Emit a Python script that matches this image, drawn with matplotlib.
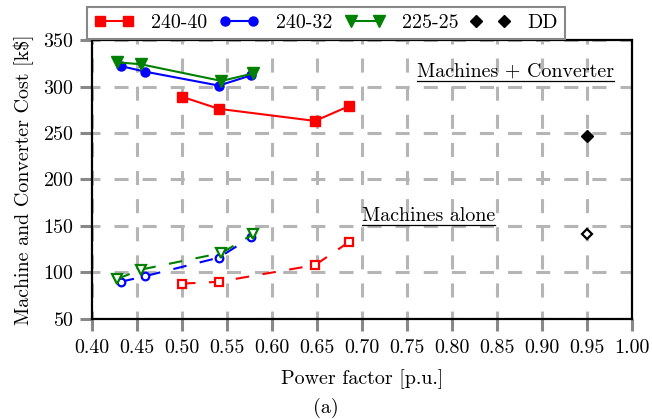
import numpy as np
import matplotlib
matplotlib.use("Agg")
import matplotlib.pyplot as plt
from matplotlib.lines import Line2D

plt.rcParams['font.family'] = 'serif'
plt.rcParams['font.serif'] = ['cmr10']
plt.rcParams['mathtext.fontset'] = 'cm'
plt.rcParams['axes.formatter.use_mathtext'] = True
FS = 14.4

# power factor [p.u.] per design
pf_240_40 = [0.50, 0.541, 0.648, 0.686]
pf_240_32 = [0.432, 0.459, 0.541, 0.577]
pf_225_25 = [0.428, 0.454, 0.544, 0.579]
pf_dd = [0.95]

# machines + converter cost [k$]
total_240_40 = [289, 276, 263, 279]
total_240_32 = [322, 316, 301, 312]
total_225_25 = [326, 324, 306, 314]
total_dd = [247]

# machines alone cost [k$]
mach_240_40 = [88, 90, 108, 133]
mach_240_32 = [90, 96, 116, 138]
mach_225_25 = [93, 103, 121, 141]
mach_dd = [141]

labels = ['240-40', '240-32', '225-25', 'DD']
colors = ['red', 'blue', 'green', 'black']
markers = ['s', 'o', 'v', 'D']
msizes = [6.5, 6.5, 8, 6.5]

fig = plt.figure(figsize=(6.52, 4.19), dpi=100)
ax = fig.add_axes([0.141, 0.2387, 0.828, 0.6658])

pfs = [pf_240_40, pf_240_32, pf_225_25, pf_dd]
totals = [total_240_40, total_240_32, total_225_25, total_dd]
machs = [mach_240_40, mach_240_32, mach_225_25, mach_dd]

handles = []
for pf, tot, mach, lab, c, m, ms in zip(pfs, totals, machs, labels, colors,
                                        markers, msizes):
    line = lab != 'DD'
    h, = ax.plot(pf, tot, color=c, marker=m, ms=ms, lw=1.5,
                 ls='-' if line else 'none', label=lab, zorder=3)
    handles.append(h)
    ax.plot(pf, mach, color=c, marker=m, ms=ms - 1, lw=1.5,
            ls=(0, (6.5, 6.5)) if line else 'none',
            mfc='white', mew=1.6, zorder=3)

ax.set_xlim(0.40, 1.00)
ax.set_ylim(50, 350)
xt = np.arange(0.40, 1.001, 0.05)
ax.set_xticks(xt)
ax.set_xticklabels([f'{v:.2f}' for v in xt])
ax.set_yticks(np.arange(50, 351, 50))
ax.grid(True, color='#b5b5b5', ls=(2, (4.6, 4.6)), lw=2.2, zorder=0)
ax.tick_params(direction='out', length=8.5, width=2.2, color='#888888',
               labelsize=FS)
ax.tick_params(axis='x', pad=6)
ax.tick_params(axis='y', pad=4)
for s in ax.spines.values():
    s.set_linewidth(1.6)
    s.set_color('black')
    s.set_zorder(4)

ax.set_xlabel('Power factor [p.u.]', fontsize=FS, labelpad=9)
ax.set_ylabel('Machine and Converter Cost [k$]', fontsize=FS, labelpad=7)

leg = ax.legend(handles=handles, ncol=4, loc='lower left',
                bbox_to_anchor=(-0.009, 1.002), numpoints=2, fancybox=False,
                edgecolor='#888888', framealpha=1, fontsize=FS,
                handlelength=2.0, columnspacing=0.6, handletextpad=0.85,
                borderpad=0.36, borderaxespad=0.0)
leg.get_frame().set_linewidth(1.5)

t1 = ax.text(0.871, 316, 'Machines + Converter', fontsize=FS, ha='center',
             va='center', zorder=5)
t2 = ax.text(0.774, 161, 'Machines alone', fontsize=FS, ha='center',
             va='center', zorder=5)

fig.text(0.5, 0.026, '(a)', ha='center', va='center', fontsize=FS)

# underline the two annotations
fig.canvas.draw()
inv = fig.transFigure.inverted()
for t in (t1, t2):
    bb = t.get_window_extent()
    (x0, y0), (x1, _) = inv.transform([[bb.x0, bb.y0], [bb.x1, bb.y1]])
    fig.add_artist(Line2D([x0, x1], [y0, y0], color='black', lw=0.9,
                          transform=fig.transFigure))

fig.savefig('out.png', dpi=100)
